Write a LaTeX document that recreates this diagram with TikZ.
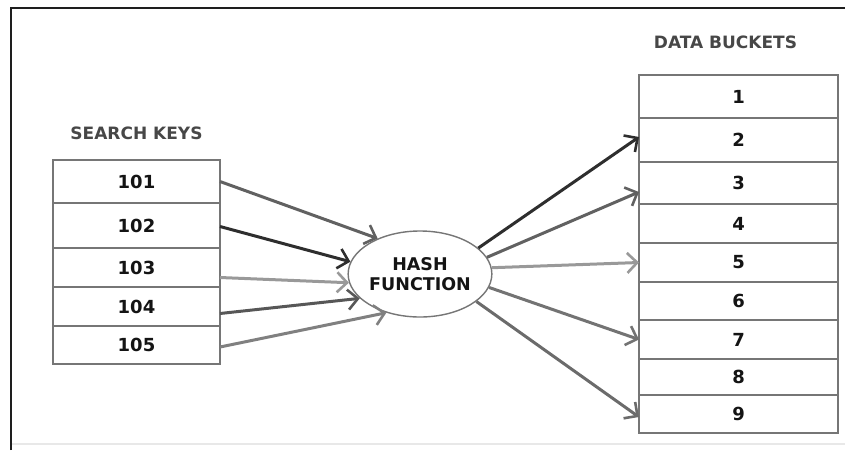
\documentclass[tikz,border=0pt]{standalone}
\usepackage{fontspec}
\setmainfont{DejaVu Sans}
\usepackage{tikz}
\usetikzlibrary{shapes.geometric, arrows.meta, positioning}
\definecolor{borde}{RGB}{118,118,118}
\definecolor{marco}{RGB}{30,30,30}
\tikzset{
  clave/.style={rectangle, draw=borde, line width=1.5pt, fill=white,
    minimum width=167pt, outer sep=0pt, inner sep=0pt,
    font=\fontsize{18}{20}\selectfont\bfseries, text=black!92},
  cubeta/.style={clave, minimum width=199pt},
  funcion/.style={ellipse, draw=borde, line width=1.4pt, fill=white,
    minimum width=135pt, minimum height=86pt, inner sep=0pt, align=center,
    font=\fontsize{17.5}{20}\selectfont\bfseries, text=black!92},
  titulo/.style={font=\fontsize{17}{20}\selectfont\bfseries, text=black!72},
  flecha/.style={-{Straight Barb[length=10pt, width=20pt, line width=2.6pt]},
    line width=3pt}
}
\begin{document}
\begin{tikzpicture}[x=1pt, y=-1pt]
  \useasboundingbox (0,0) rectangle (845,450);
  % marco
  \draw[marco, line width=2pt] (10.5,450) -- (10.5,7.5) -- (845,7.5);
  \draw[black!9, line width=2pt] (12,444) -- (845,444);
  % claves de busqueda
  \node[clave, minimum height=43pt] (k101) at (136.5,181.5) {101};
  \node[clave, minimum height=45pt, below=0pt of k101] (k102) {102};
  \node[clave, minimum height=39pt, below=0pt of k102] (k103) {103};
  \node[clave, minimum height=39pt, below=0pt of k103] (k104) {104};
  \node[clave, minimum height=38pt, below=0pt of k104] (k105) {105};
  \node[titulo, above=17pt of k101] (tclaves) {SEARCH KEYS};
  % funcion hash
  \node[funcion] (hash) at (420,274) {HASH\\FUNCTION};
  % cubetas
  \node[cubeta, minimum height=43pt] (b1) at (738.5,96.5) {1};
  \node[cubeta, minimum height=44pt, below=0pt of b1] (b2) {2};
  \node[cubeta, minimum height=42pt, below=0pt of b2] (b3) {3};
  \node[cubeta, minimum height=39pt, below=0pt of b3] (b4) {4};
  \node[cubeta, minimum height=39pt, below=0pt of b4] (b5) {5};
  \node[cubeta, minimum height=38pt, below=0pt of b5] (b6) {6};
  \node[cubeta, minimum height=39pt, below=0pt of b6] (b7) {7};
  \node[cubeta, minimum height=36pt, below=0pt of b7] (b8) {8};
  \node[cubeta, minimum height=38pt, below=0pt of b8] (b9) {9};
  \node[titulo, above=23pt of b1, xshift=-13pt] (tcubetas) {DATA BUCKETS};
  % claves -> hash
  \draw[flecha, black!62] (k101.east) -- (hash.140);
  \draw[flecha, black!82] ([yshift=-1pt]k102.east) -- (hash.170);
  \draw[flecha, black!40] ([yshift=-10pt]k103.east) -- (hash.187);
  \draw[flecha, black!66] ([yshift=-7pt]k104.east) -- (hash.202);
  \draw[flecha, black!50] ([yshift=-2pt]k105.east) -- (hash.229);
  % hash -> cubetas
  \draw[flecha, black!82] (hash.24) -- ([yshift=3pt]b2.west);
  \draw[flecha, black!62] (hash.14) -- ([yshift=-9pt]b3.west);
  \draw[flecha, black!40] (hash.5) -- (b5.west);
  \draw[flecha, black!55] (hash.-11) -- (b7.west);
  \draw[flecha, black!58] (hash.-26) -- ([yshift=-3pt]b9.west);
\end{tikzpicture}
\end{document}
